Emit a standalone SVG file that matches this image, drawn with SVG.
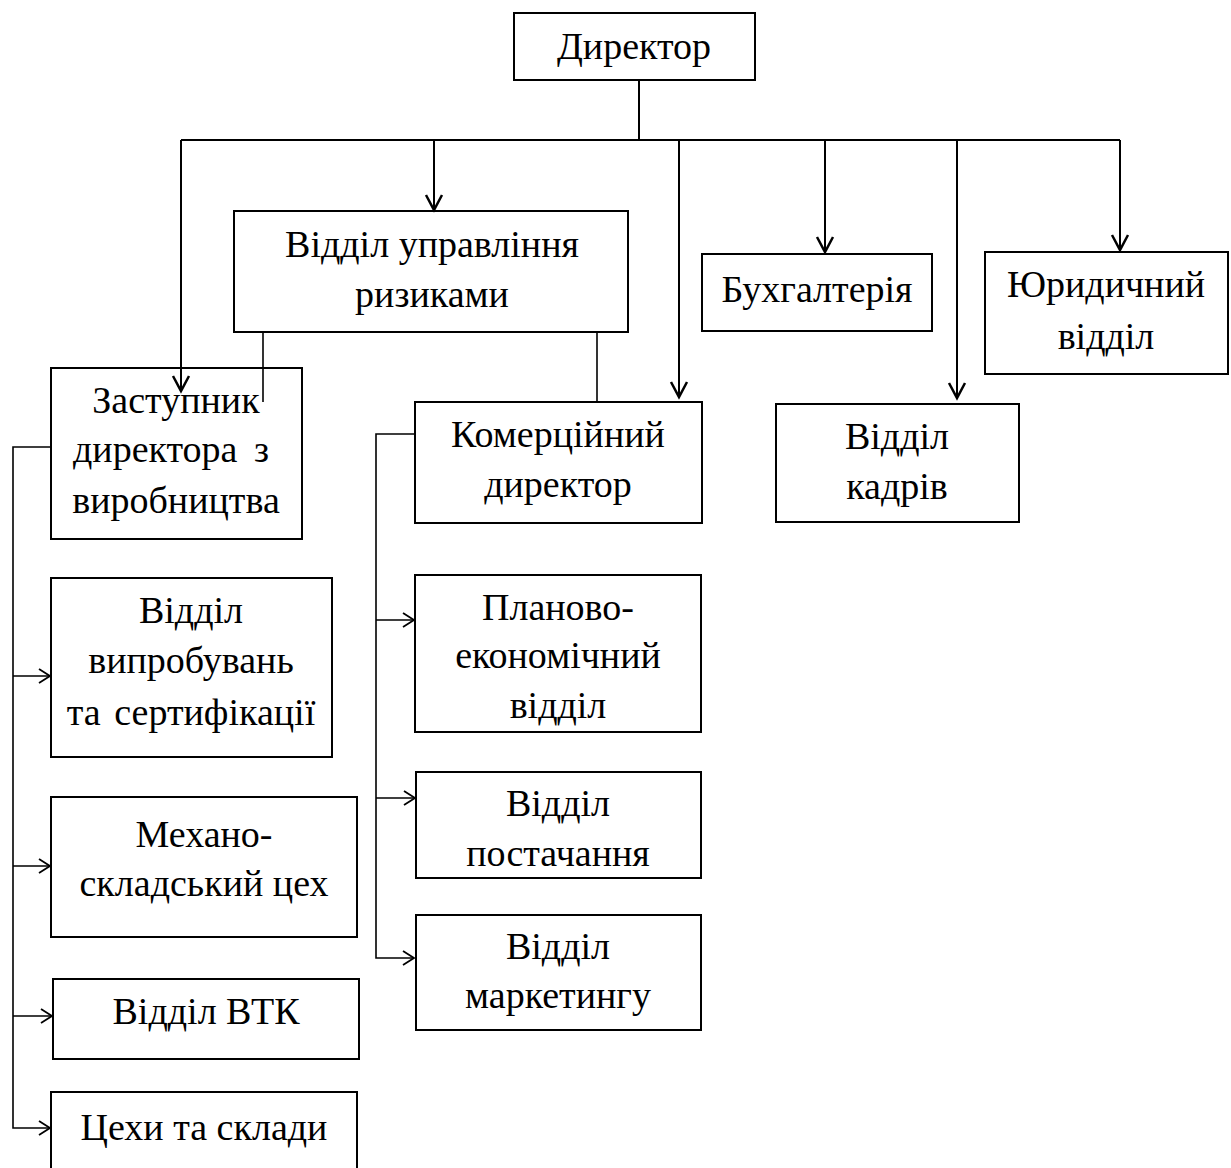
<svg xmlns="http://www.w3.org/2000/svg" width="1231" height="1168" viewBox="0 0 1231 1168">
<defs>
<style>
.box{fill:none;stroke:#000;stroke-width:2}
.t{font-family:"Liberation Serif","Times New Roman",serif;font-size:38px;fill:#000;text-anchor:middle}
.c{fill:none;stroke:#000;stroke-width:2}
.ct{fill:none;stroke:#000;stroke-width:1.6}
.ah{fill:none;stroke:#000;stroke-width:2.5}
.ahs{fill:none;stroke:#000;stroke-width:1.8}
</style>
</defs>
<rect width="1231" height="1168" fill="#fff"/>
<g id="director"><rect class="box" x="514" y="13" width="241" height="67"/><text class="t" x="634" y="59">Директор</text></g>
<g id="risk"><rect class="box" x="234" y="211" width="394" height="121"/><text class="t" x="432" y="257">Відділ управління</text><text class="t" x="432" y="307">ризиками</text></g>
<g id="buh"><rect class="box" x="702" y="254" width="230" height="77"/><text class="t" x="817" y="302">Бухгалтерія</text></g>
<g id="legal"><rect class="box" x="985" y="252" width="243" height="122"/><text class="t" x="1106" y="297">Юридичний</text><text class="t" x="1106" y="349">відділ</text></g>
<g id="deputy"><rect class="box" x="51" y="368" width="251" height="171"/><text class="t" x="176" y="413">Заступник</text><text class="t" y="462" style="text-anchor:start"><tspan x="73">директора</tspan><tspan x="254">з</tspan></text><text class="t" x="176" y="513">виробництва</text></g>
<g id="commercial"><rect class="box" x="415" y="402" width="287" height="121"/><text class="t" x="558" y="447">Комерційний</text><text class="t" x="558" y="497">директор</text></g>
<g id="hr"><rect class="box" x="776" y="404" width="243" height="118"/><text class="t" x="897" y="449">Відділ</text><text class="t" x="897" y="499">кадрів</text></g>
<g id="testing"><rect class="box" x="51" y="578" width="281" height="179"/><text class="t" x="191" y="623">Відділ</text><text class="t" x="191" y="673">випробувань</text><text class="t" x="191" y="725" style="word-spacing:4px">та сертифікації</text></g>
<g id="mech"><rect class="box" x="51" y="797" width="306" height="140"/><text class="t" x="204" y="847">Механо-</text><text class="t" x="204" y="896">складський цех</text></g>
<g id="vtk"><rect class="box" x="53" y="979" width="306" height="80"/><text class="t" x="206" y="1024">Відділ ВТК</text></g>
<g id="shops"><rect class="box" x="51" y="1092" width="306" height="90"/><text class="t" x="204" y="1140">Цехи та склади</text></g>
<g id="plan"><rect class="box" x="415" y="575" width="286" height="157"/><text class="t" x="558" y="620">Планово-</text><text class="t" x="558" y="668">економічний</text><text class="t" x="558" y="718">відділ</text></g>
<g id="supply"><rect class="box" x="416" y="772" width="285" height="106"/><text class="t" x="558" y="816">Відділ</text><text class="t" x="558" y="866">постачання</text></g>
<g id="marketing"><rect class="box" x="416" y="915" width="285" height="115"/><text class="t" x="558" y="959">Відділ</text><text class="t" x="558" y="1008">маркетингу</text></g>
<g id="connectors">
<path class="c" d="M639 80V140M181 140H1120"/>
<path class="c" d="M181 140V390"/>
<path class="ah" d="M173 376L181 391L189 376"/>
<path class="c" d="M434 140V209"/>
<path class="ah" d="M426 195L434 210L442 195"/>
<path class="c" d="M679 140V396"/>
<path class="ah" d="M671 382L679 397L687 382"/>
<path class="c" d="M825 140V251"/>
<path class="ah" d="M817 237L825 252L833 237"/>
<path class="c" d="M957 140V397"/>
<path class="ah" d="M949 383L957 398L965 383"/>
<path class="c" d="M1120 140V249"/>
<path class="ah" d="M1112 235L1120 250L1128 235"/>
<path class="ct" d="M263 332V402"/>
<path class="ct" d="M597 332V402"/>
<path class="ct" d="M51 447H13V1128H50"/>
<path class="ct" d="M13 676H50M13 866H50M13 1016H52"/>
<path class="ahs" d="M39 669L50 676L39 683M39 859L50 866L39 873M41 1009L52 1016L41 1023M39 1121L50 1128L39 1135"/>
<path class="ct" d="M415 434H376V958H414"/>
<path class="ct" d="M376 620H414M376 798H415"/>
<path class="ahs" d="M403 613L414 620L403 627M404 791L415 798L404 805M403 951L414 958L403 965"/>
</g>
</svg>
